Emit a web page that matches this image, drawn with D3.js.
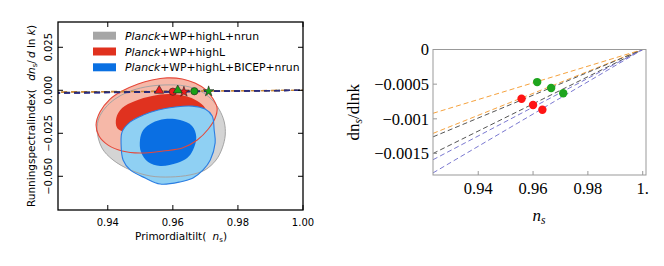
<!DOCTYPE html>
<html lang="en">
<head>
<meta charset="UTF-8">
<title>Running of the spectral index</title>
<style>
  body { margin: 0; background: #fff; }
  svg { display: block; }
  .sans { font-family: "DejaVu Sans", sans-serif; }
  .serif { font-family: "Liberation Serif", "Times New Roman", serif; }
</style>
</head>
<body>
<div id="chart"></div>
<script src="https://d3js.org/d3.v7.min.js"></script>
<script>
// ---- data ----
const leftNsTicks = [0.94, 0.96, 0.98, 1.00];
const leftAlphaTicks = [-0.050, -0.025, 0.000, 0.025];
const rightNsTicks = [0.94, 0.96, 0.98, 1.0];
const rightNsTickLabels = ["0.94", "0.96", "0.98", "1."];
const rightAlphaTicks = [0, -0.0005, -0.001, -0.0015];
const rightAlphaTickLabels = ["0", "\u22120.0005", "\u22120.001", "\u22120.0015"];

const legendLabels = ["+WP+highL+nrun", "+WP+highL", "+WP+highL+BICEP+nrun"];

// 68/95% contours, as (n_s, dn_s/dlnk)
const grayOuter = [[0.9367,-0.0231],[0.9373,-0.0161],[0.9392,-0.0103],[0.9422,-0.0051],[0.9462,-0.0010],
  [0.9515,0.0019],[0.9576,0.0031],[0.9638,0.0025],[0.9684,-0.0004],[0.9718,-0.0051],[0.9743,-0.0114],
  [0.9758,-0.0184],[0.9761,-0.0260],[0.9752,-0.0335],[0.9733,-0.0405],[0.9699,-0.0463],[0.9653,-0.0492],
  [0.9592,-0.0504],[0.9530,-0.0498],[0.9469,-0.0463],[0.9416,-0.0405],[0.9382,-0.0335]];
const redOuter = [[0.9364,-0.0202],[0.9376,-0.0126],[0.9407,-0.0051],[0.9444,-0.0004],[0.9493,0.0037],
  [0.9536,0.0060],[0.9582,0.0072],[0.9629,0.0066],[0.9668,0.0042],[0.9702,0.0002],[0.9724,-0.0051],
  [0.9736,-0.0103],[0.9730,-0.0161],[0.9709,-0.0225],[0.9675,-0.0289],[0.9629,-0.0336],[0.9570,-0.0353],
  [0.9499,-0.0365],[0.9444,-0.0353],[0.9401,-0.0319],[0.9373,-0.0266]];
const redInner = [[0.9429,-0.0219],[0.9426,-0.0161],[0.9444,-0.0103],[0.9484,-0.0062],[0.9536,-0.0033],
  [0.9586,-0.0022],[0.9638,-0.0033],[0.9675,-0.0062],[0.9699,-0.0103],[0.9702,-0.0161],[0.9684,-0.0213],
  [0.9638,-0.0248],[0.9576,-0.0260],[0.9515,-0.0254],[0.9462,-0.0248]];
const blueOuter = [[0.9444,-0.0242],[0.9469,-0.0184],[0.9509,-0.0144],[0.9555,-0.0115],[0.9607,-0.0097],
  [0.9659,-0.0092],[0.9699,-0.0109],[0.9721,-0.0149],[0.9727,-0.0231],[0.9730,-0.0306],[0.9715,-0.0405],
  [0.9693,-0.0463],[0.9662,-0.0510],[0.9622,-0.0533],[0.9561,-0.0545],[0.9515,-0.0510],[0.9469,-0.0463],
  [0.9447,-0.0405],[0.9441,-0.0318]];
const blueInner = [[0.9499,-0.0289],[0.9509,-0.0231],[0.9536,-0.0190],[0.9576,-0.0167],[0.9622,-0.0173],
  [0.9659,-0.0207],[0.9672,-0.0271],[0.9662,-0.0347],[0.9644,-0.0394],[0.9613,-0.0423],[0.9561,-0.0440],
  [0.9524,-0.0417],[0.9502,-0.0359]];

// model lines, (n_s, running) end points
const orangeLines = [[[0.9235,-0.00092],[1.0,0]], [[0.9235,-0.00121],[1.0,0]]];
const blackLines  = [[[0.9235,-0.00126],[1.0,0]], [[0.9235,-0.00150],[1.0,0]]];
const blueLines   = [[[0.9235,-0.00159],[1.0,0]], [[0.9235,-0.00178],[1.0,0]]];

// model points
const redPoints   = [[0.9558,-0.00071],[0.9600,-0.00080],[0.9634,-0.00087]];
const greenPoints = [[0.9615,-0.00047],[0.9666,-0.000555],[0.9710,-0.00063]];
const markerShapes = ["triangle", "circle", "star"];

// ---- setup ----
const svg = d3.select("#chart").append("svg")
  .attr("width", 664).attr("height", 266);

const L = { left: 58, right: 303, top: 22, bottom: 210 };
const R = { left: 433, right: 646, top: 49.5, bottom: 175 };

const xL = d3.scaleLinear().domain([0.9247, 1.0]).range([L.left, L.right]);
const yL = d3.scaleLinear().domain([-0.0696, 0.0397]).range([L.bottom, L.top]);
const xR = d3.scaleLinear().domain([0.9235, 1.0012]).range([R.left, R.right]);
const yR = d3.scaleLinear().domain([-0.00181, 0]).range([R.bottom, R.top]);

const defs = svg.append("defs");
defs.append("clipPath").attr("id", "clipL").append("rect")
  .attr("x", L.left).attr("y", L.top).attr("width", L.right - L.left).attr("height", L.bottom - L.top);
defs.append("clipPath").attr("id", "clipR").append("rect")
  .attr("x", R.left).attr("y", R.top).attr("width", R.right - R.left).attr("height", R.bottom - R.top);

// ---- left panel ----
const gL = svg.append("g").attr("class", "sans");
const contour = d3.line().x(d => xL(d[0])).y(d => yL(d[1])).curve(d3.curveCatmullRomClosed.alpha(0.5));

const plotL = gL.append("g").attr("clip-path", "url(#clipL)");
plotL.append("path").attr("d", contour(grayOuter)).attr("fill", "#d4d4d4");
plotL.append("path").attr("d", contour(redOuter)).attr("fill", "#f6b8a8");
plotL.append("path").attr("d", contour(redInner)).attr("fill", "#e0321f");
plotL.append("path").attr("d", contour(blueOuter)).attr("fill", "#8fd0f3");
plotL.append("path").attr("d", contour(blueInner)).attr("fill", "#0a6fe3");
plotL.append("path").attr("d", contour(grayOuter)).attr("fill", "none").attr("stroke", "#a4a4a4").attr("stroke-width", 1);
plotL.append("path").attr("d", contour(redOuter)).attr("fill", "none").attr("stroke", "#e5483a").attr("stroke-width", 1.1);
plotL.append("path").attr("d", contour(blueOuter)).attr("fill", "none").attr("stroke", "#2a7de2").attr("stroke-width", 1.1);

const lineL = d3.line().x(d => xL(d[0])).y(d => yL(d[1]));
[[orangeLines, "#c98a3a"], [blackLines, "#333333"], [blueLines, "#2b2b80"]].forEach(([set, col], k) => {
  set.forEach(l => plotL.append("path").attr("d", lineL(l)).attr("fill", "none")
    .attr("stroke", col).attr("stroke-width", 1.3).attr("stroke-dasharray", "6,4")
    .attr("stroke-dashoffset", k === 0 ? 3 : 0));
});

const symType = { triangle: d3.symbolTriangle, circle: d3.symbolCircle, star: d3.symbolStar };
const symSize = { triangle: 36, circle: 42, star: 34 };
[[redPoints, "#ee1c1c"], [greenPoints, "#18a018"]].forEach(([pts, col]) => {
  pts.forEach((p, i) => {
    const s = markerShapes[i];
    plotL.append("path")
      .attr("d", d3.symbol().type(symType[s]).size(symSize[s])())
      .attr("transform", `translate(${xL(p[0])},${yL(p[1]) + (s === "triangle" ? -0.8 : 0)})`)
      .attr("fill", col).attr("stroke", "#222").attr("stroke-width", 0.6);
  });
});

// frame & ticks
gL.append("rect").attr("x", L.left).attr("y", L.top)
  .attr("width", L.right - L.left).attr("height", L.bottom - L.top)
  .attr("fill", "none").attr("stroke", "#000").attr("stroke-width", 1.3);
leftNsTicks.forEach(t => {
  gL.append("line").attr("x1", xL(t)).attr("x2", xL(t)).attr("y1", L.bottom).attr("y2", L.bottom - 5).attr("stroke", "#000");
  gL.append("line").attr("x1", xL(t)).attr("x2", xL(t)).attr("y1", L.top).attr("y2", L.top + 5).attr("stroke", "#000");
  gL.append("text").attr("x", xL(t)).attr("y", 226).attr("text-anchor", "middle")
    .attr("font-size", 10).text(d3.format(".2f")(t));
});
leftAlphaTicks.forEach(t => {
  gL.append("line").attr("x1", L.left).attr("x2", L.left + 5).attr("y1", yL(t)).attr("y2", yL(t)).attr("stroke", "#000");
  gL.append("line").attr("x1", L.right).attr("x2", L.right - 5).attr("y1", yL(t)).attr("y2", yL(t)).attr("stroke", "#000");
  gL.append("text").attr("transform", `translate(52,${yL(t)}) rotate(-90)`).attr("text-anchor", "middle")
    .attr("font-size", 10).text(d3.format(".3f")(t).replace("-", "\u2212"));
});

// axis labels
const xlab = gL.append("text").attr("x", 181).attr("y", 240).attr("text-anchor", "middle").attr("font-size", 10.5);
xlab.append("tspan").text("Primordialtilt(\u2009\u2009\u2009");
xlab.append("tspan").attr("font-style", "italic").text("n");
xlab.append("tspan").attr("font-size", 7).attr("dy", 2).text("s");
xlab.append("tspan").attr("dy", -2).text(")");

const ylab = gL.append("text").attr("transform", `translate(35,${(L.top + L.bottom) / 2}) rotate(-90)`)
  .attr("text-anchor", "middle").attr("font-size", 10.5);
ylab.append("tspan").text("Runningspectralindex(\u2009\u2009\u2009\u2009");
ylab.append("tspan").attr("font-style", "italic").text("dn");
ylab.append("tspan").attr("font-size", 7).attr("dy", 2).text("s");
ylab.append("tspan").attr("dy", -2).text("/\u2009");
ylab.append("tspan").attr("font-style", "italic").text("d");
ylab.append("tspan").text(" ln ");
ylab.append("tspan").attr("font-style", "italic").text("k");
ylab.append("tspan").text(")");

// legend
const legendColors = ["#a6a6a6", "#e0311e", "#0a70e2"];
legendLabels.forEach((lab, i) => {
  const cy = 35.7 + i * 15.8;
  gL.append("rect").attr("x", 93).attr("y", cy - 4).attr("width", 23).attr("height", 8).attr("fill", legendColors[i]);
  const t = gL.append("text").attr("x", 125).attr("y", cy + 4).attr("font-size", 10.8);
  t.append("tspan").attr("font-style", "italic").text("Planck");
  t.append("tspan").text(lab);
});

// ---- right panel ----
const gR = svg.append("g").attr("class", "serif");
const plotR = gR.append("g").attr("clip-path", "url(#clipR)");
const lineR = d3.line().x(d => xR(d[0])).y(d => yR(d[1]));
[[orangeLines, "#f5a23e"], [blackLines, "#555555"], [blueLines, "#7a78d0"]].forEach(([set, col]) => {
  set.forEach(l => plotR.append("path").attr("d", lineR(l)).attr("fill", "none")
    .attr("stroke", col).attr("stroke-width", 1).attr("stroke-dasharray", "5,3"));
});
[[redPoints, "#ff1414"], [greenPoints, "#1ea51e"]].forEach(([pts, col]) => {
  plotR.selectAll(null).data(pts).enter().append("circle")
    .attr("cx", d => xR(d[0])).attr("cy", d => yR(d[1])).attr("r", 4.2).attr("fill", col);
});

gR.append("rect").attr("x", R.left).attr("y", R.top)
  .attr("width", R.right - R.left).attr("height", R.bottom - R.top)
  .attr("fill", "none").attr("stroke", "#999").attr("stroke-width", 1);
rightNsTicks.forEach((t, i) => {
  gR.append("line").attr("x1", xR(t)).attr("x2", xR(t)).attr("y1", R.bottom).attr("y2", R.bottom - 4).attr("stroke", "#999");
  gR.append("text").attr("x", xR(t)).attr("y", 194).attr("text-anchor", "middle").attr("font-size", 16.5)
    .text(rightNsTickLabels[i]);
});
rightAlphaTicks.forEach((t, i) => {
  gR.append("line").attr("x1", R.left).attr("x2", R.left + 4).attr("y1", yR(t)).attr("y2", yR(t)).attr("stroke", "#999");
  gR.append("text").attr("x", 429).attr("y", yR(t)).attr("dy", "0.35em").attr("text-anchor", "end").attr("font-size", 16.5)
    .text(rightAlphaTickLabels[i]);
});

const xlabR = gR.append("text").attr("x", 539).attr("y", 221).attr("text-anchor", "middle").attr("font-size", 17);
xlabR.append("tspan").attr("font-style", "italic").text("n");
xlabR.append("tspan").attr("font-style", "italic").attr("font-size", 11.5).attr("dy", 3).text("s");

const ylabR = gR.append("text").attr("transform", `translate(359,${(R.top + R.bottom) / 2}) rotate(-90)`)
  .attr("text-anchor", "middle").attr("font-size", 17);
ylabR.append("tspan").text("dn");
ylabR.append("tspan").attr("font-style", "italic").attr("font-size", 11.5).attr("dy", 3).text("s");
ylabR.append("tspan").attr("dy", -3).text("/dlnk");
</script>
</body>
</html>
